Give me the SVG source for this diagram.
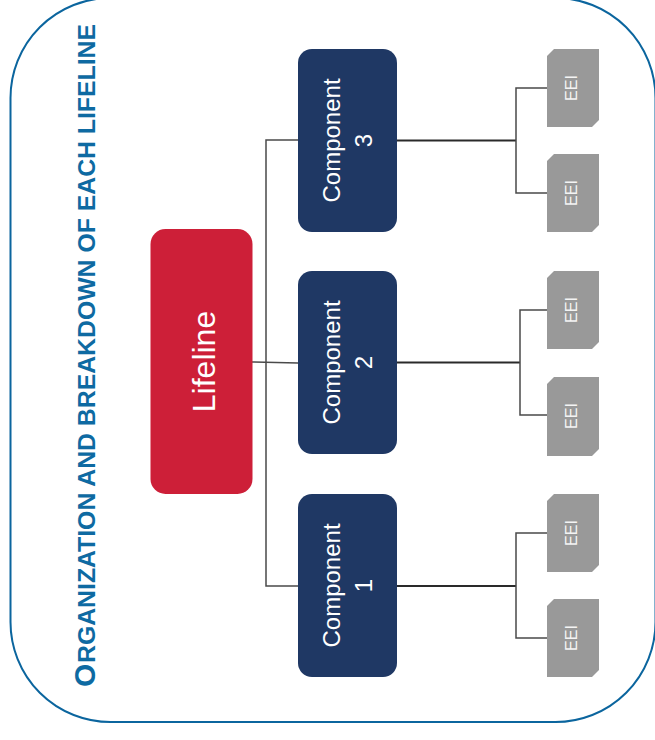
<svg xmlns="http://www.w3.org/2000/svg" width="655" height="740" viewBox="0 0 655 740">
<style>
.comp{fill:#1f3864}
.eei{fill:#999999}
.wt{fill:#ffffff;font-family:"Liberation Sans",Arial,sans-serif;text-anchor:middle}
.ct{font-size:24px}
.et{font-size:16px;fill:#f4f4f4}
.title{fill:#0e6aa2;font-family:"Liberation Sans",Arial,sans-serif;font-weight:bold}
.ln{stroke:#4a4a4a;stroke-width:1.5;fill:none}
.lm{stroke:#2a2a2a;stroke-width:2;fill:none}
</style>
<rect x="0" y="0" width="655" height="740" fill="#ffffff"/>
<rect id="frame" x="10.5" y="-2" width="645" height="724" rx="100" ry="100" fill="none" stroke="#0b659e" stroke-width="2"/>
<g id="title" transform="translate(95,687) rotate(-90)">
<text class="title" x="0" y="0" font-size="30">O</text>
<text class="title" x="24" y="0" font-size="24" textLength="639" lengthAdjust="spacingAndGlyphs">RGANIZATION AND BREAKDOWN OF EACH LIFELINE</text>
</g>
<g id="connectors">
<polyline class="ln" points="298,140 266,140 266,586 298,586"/>
<line class="ln" x1="252" y1="362" x2="298" y2="363"/>
<line class="lm" x1="397" y1="140.5" x2="516" y2="140.5"/>
<polyline class="ln" points="547,88 516,88 516,193 547,193"/>
<line class="lm" x1="397" y1="362.5" x2="520" y2="362.5"/>
<polyline class="ln" points="547,310 520,310 520,415 547,415"/>
<line class="lm" x1="397" y1="586" x2="516" y2="586"/>
<polyline class="ln" points="547,533 516,533 516,638 547,638"/>
</g>
<g id="lifeline">
<rect x="150.5" y="229" width="102" height="265" rx="15" fill="#cd1f38"/>
<text class="wt" font-size="32" transform="translate(201.5,361.5) rotate(-90)" x="0" y="13.5">Lifeline</text>
</g>
<g id="component3">
<rect class="comp" x="298" y="49" width="99" height="183" rx="14"/>
<text class="wt ct" transform="translate(347.5,140.5) rotate(-90)"><tspan x="0" y="-7.5">Component</tspan><tspan x="0" y="24.2">3</tspan></text>
</g>
<g id="component2">
<rect class="comp" x="298" y="271" width="99" height="183" rx="14"/>
<text class="wt ct" transform="translate(347.5,362.5) rotate(-90)"><tspan x="0" y="-7.5">Component</tspan><tspan x="0" y="24.2">2</tspan></text>
</g>
<g id="component1">
<rect class="comp" x="298" y="494" width="99" height="183" rx="14"/>
<text class="wt ct" transform="translate(347.5,585.5) rotate(-90)"><tspan x="0" y="-7.5">Component</tspan><tspan x="0" y="24.2">1</tspan></text>
</g>
<g id="eei3a">
<polygon class="eei" points="554,49 599,49 599,120 592,127 547,127 547,56"/>
<text class="wt et" transform="translate(573,88) rotate(-90)" x="0" y="4">EEI</text>
</g>
<g id="eei3b">
<polygon class="eei" points="554,154 599,154 599,225 592,232 547,232 547,161"/>
<text class="wt et" transform="translate(573,193) rotate(-90)" x="0" y="4">EEI</text>
</g>
<g id="eei2a">
<polygon class="eei" points="554,271 599,271 599,342 592,349 547,349 547,278"/>
<text class="wt et" transform="translate(573,310) rotate(-90)" x="0" y="4">EEI</text>
</g>
<g id="eei2b">
<polygon class="eei" points="554,377 599,377 599,449 592,456 547,456 547,384"/>
<text class="wt et" transform="translate(573,416) rotate(-90)" x="0" y="4">EEI</text>
</g>
<g id="eei1a">
<polygon class="eei" points="554,494 599,494 599,565 592,572 547,572 547,501"/>
<text class="wt et" transform="translate(573,533) rotate(-90)" x="0" y="4">EEI</text>
</g>
<g id="eei1b">
<polygon class="eei" points="554,599 599,599 599,670 592,677 547,677 547,606"/>
<text class="wt et" transform="translate(573,638) rotate(-90)" x="0" y="4">EEI</text>
</g>
</svg>
